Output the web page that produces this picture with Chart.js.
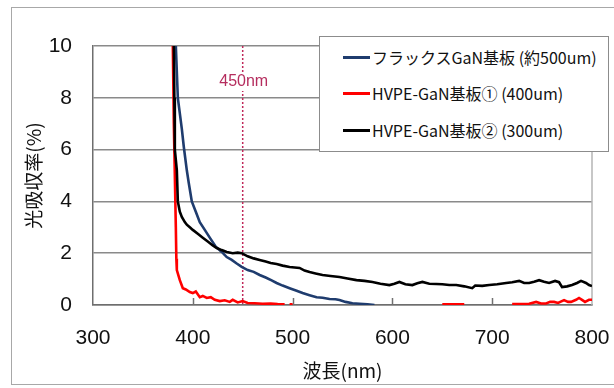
<!DOCTYPE html>
<html><head><meta charset="utf-8">
<script src="https://cdn.jsdelivr.net/npm/chart.js@4/dist/chart.umd.min.js"></script>
<style>
html,body{margin:0;padding:0;background:#fff;}
#wrap{position:relative;width:614px;height:388px;overflow:hidden;}
#frame{position:absolute;left:11px;top:7px;width:700px;height:378px;border:1.5px solid #a8a8a8;box-sizing:border-box;pointer-events:none;}
#c{position:absolute;left:0;top:0;}
#legend{position:absolute;left:319px;top:36px;width:290px;height:116px;border:1.5px solid #8c8c8c;background:#fff;box-sizing:border-box;font-family:"Noto Sans CJK JP",sans-serif;font-size:16px;color:#111;}
.item{position:absolute;left:23px;height:20px;display:flex;align-items:center;white-space:nowrap;}
.sw{width:27px;height:3px;margin-right:2px;}
</style></head>
<body><div id="wrap"><canvas id="c" width="614" height="388"></canvas><div id="frame"></div><div id="legend"></div></div>
<script>
const seriesNames = ["フラックスGaN基板 (約500um)", "HVPE-GaN基板① (400um)", "HVPE-GaN基板② (300um)"];
const seriesColors = ["#1f3c6e", "#ff0000", "#000000"];
const xTicks = [300, 400, 500, 600, 700, 800];
const yTicks = [0, 2, 4, 6, 8, 10];
const markerNm = 450;
const markerLabel = "450nm";
const xTitle = "波長(nm)";
const yTitle = "光吸収率(%)";

const fluxWl  = [383,385,387,389,391,394,396,399,403,407,412,417,423,429,434,439,444,449,455,461,467,473,479,484,490,497,504,510,517,524,530,537,543,547,553,560,567,575,582];
const fluxAbs = [10,8.0,7.4,6.8,6.1,5.2,4.7,4.0,3.6,3.2,2.9,2.6,2.25,2.05,1.85,1.74,1.6,1.47,1.35,1.28,1.16,1.06,0.95,0.85,0.75,0.65,0.55,0.46,0.38,0.30,0.28,0.23,0.22,0.19,0.12,0.07,0.05,0.03,0.0];

const hvpe1Wl  = [380,381,382,383,383.5,384,387,390,393,397,400,403,407,410,414,418,422,427,432,437,440,445,450,455,462,470,478,485,492,494,497,500,502,650,660,672,674,720,730,737,744,749,754,758,762,766,772,776,779,784,787,790,793,797,800];
const hvpe1Abs = [10,7,5,3,1.8,1.35,0.96,0.65,0.6,0.5,0.46,0.52,0.3,0.35,0.27,0.3,0.2,0.15,0.18,0.12,0.2,0.1,0.15,0.08,0.07,0.05,0.06,0.04,0.03,null,0.03,0.03,null,0.03,0.03,0.03,null,0.04,0.04,0.05,0.12,0.06,0.06,0.12,0.12,0.08,0.19,0.12,0.12,0.2,0.27,0.2,0.12,0.2,0.2];

const hvpe2Wl  = [381,381.5,382,384,385,387,389,392,394,397,400,405,410,415,420,424,429,434,440,445,449,455,461,467,473,478,484,490,497,502,507,512,517,523,530,538,547,555,564,572,580,588,597,602,607,613,620,625,630,637,644,650,657,664,672,680,683,690,697,705,714,720,727,732,737,742,747,752,757,763,767,770,775,780,785,789,794,797,800];
const hvpe2Abs = [10,8,6,5.2,4.0,3.6,3.4,3.2,3.1,3.0,2.9,2.75,2.6,2.45,2.3,2.2,2.12,2.05,2.0,2.02,2.0,1.88,1.8,1.74,1.68,1.62,1.58,1.52,1.47,1.45,1.43,1.33,1.27,1.22,1.16,1.12,1.08,1.02,0.96,0.93,0.89,0.82,0.77,0.82,0.89,0.8,0.77,0.84,0.89,0.82,0.81,0.8,0.77,0.77,0.72,0.65,0.75,0.74,0.77,0.8,0.85,0.88,0.93,0.85,0.85,0.9,0.96,0.9,0.85,0.93,0.88,0.69,0.72,0.77,0.85,0.93,0.85,0.77,0.73];

const seriesWl = [fluxWl, hvpe1Wl, hvpe2Wl];
const seriesAbs = [fluxAbs, hvpe1Abs, hvpe2Abs];
const drawOrder = [1, 2, 0];

const datasets = seriesNames.map((name, i) => ({
  label: name,
  data: seriesWl[i].map((x, j) => ({x: x, y: seriesAbs[i][j]})),
  borderColor: seriesColors[i],
  backgroundColor: seriesColors[i],
  borderWidth: 2.6,
  pointRadius: 0,
  tension: 0,
  spanGaps: false,
  order: drawOrder[i]
}));

const tickFont = {family: "'Liberation Sans',Arial,sans-serif", size: 21};
const cjkFont = {family: "'Noto Sans CJK JP',sans-serif", size: 19};

const extras = {
  id: 'extras',
  beforeDatasetsDraw(chart) {
    const {ctx, chartArea: a, scales: {x}} = chart;
    ctx.save();
    ctx.strokeStyle = '#b5b5b5'; ctx.lineWidth = 1.5;
    ctx.beginPath(); ctx.moveTo(a.right, a.top); ctx.lineTo(a.right, a.bottom); ctx.stroke();
    ctx.strokeStyle = '#707070'; ctx.lineWidth = 1.5;
    xTicks.slice(1, -1).forEach(v => {
      const px = Math.round(x.getPixelForValue(v)) + 0.5;
      ctx.beginPath(); ctx.moveTo(px, a.bottom); ctx.lineTo(px, a.bottom - 7); ctx.stroke();
    });
    const mx = x.getPixelForValue(markerNm);
    ctx.strokeStyle = '#c0285a'; ctx.lineWidth = 1.5; ctx.setLineDash([2, 2]);
    ctx.beginPath(); ctx.moveTo(mx, a.top); ctx.lineTo(mx, a.bottom); ctx.stroke();
    ctx.setLineDash([]);
    ctx.font = "16px 'Liberation Sans',Arial,sans-serif";
    const ly = a.top + 36;
    const w = ctx.measureText(markerLabel).width;
    ctx.fillStyle = '#fff';
    ctx.fillRect(mx + 1 - w / 2 - 1, ly - 9, w + 2, 18);
    ctx.fillStyle = '#b52d5e';
    ctx.textAlign = 'center'; ctx.textBaseline = 'middle';
    ctx.fillText(markerLabel, mx + 1, ly);
    ctx.restore();
  }
};

const chart = new Chart(document.getElementById('c'), {
  type: 'line',
  data: {datasets},
  options: {
    responsive: false,
    animation: false,
    layout: {padding: {left: 0, right: 22, top: 46, bottom: 0}},
    plugins: {legend: {display: false}, tooltip: {enabled: false}},
    scales: {
      x: {
        type: 'linear', min: 300, max: 800,
        afterBuildTicks: s => { s.ticks = xTicks.map(v => ({value: v})); },
        afterFit: s => { s.height = 83; s.paddingLeft = 0; s.paddingRight = 0; },
        grid: {display: false, drawTicks: false},
        border: {display: true, color: '#6e6e6e', width: 1.5},
        ticks: {font: tickFont, color: '#111', padding: 21, maxRotation: 0, autoSkip: false},
        title: {display: true, text: xTitle, font: cjkFont, color: '#111', padding: {top: 0, bottom: 6}}
      },
      y: {
        min: 0, max: 10,
        afterBuildTicks: s => { s.ticks = yTicks.map(v => ({value: v})); },
        afterFit: s => { s.width = 93; s.paddingTop = 0; s.paddingBottom = 0; },
        grid: {color: '#8a8a8a', lineWidth: 1.5, drawTicks: false},
        border: {display: true, color: '#6e6e6e', width: 1.5},
        ticks: {font: tickFont, color: '#111', padding: 21},
        title: {display: true, text: yTitle, font: cjkFont, color: '#111', padding: {top: 22, bottom: 0}}
      }
    }
  },
  plugins: [extras]
});

const leg = document.getElementById('legend');
const itemTops = [10, 46, 83];
chart.data.datasets.forEach((ds, i) => {
  const d = document.createElement('div');
  d.className = 'item';
  d.style.top = itemTops[i] + 'px';
  d.innerHTML = '<span class="sw" style="background:' + ds.borderColor + '"></span><span>' + ds.label + '</span>';
  leg.appendChild(d);
});
</script></body></html>
